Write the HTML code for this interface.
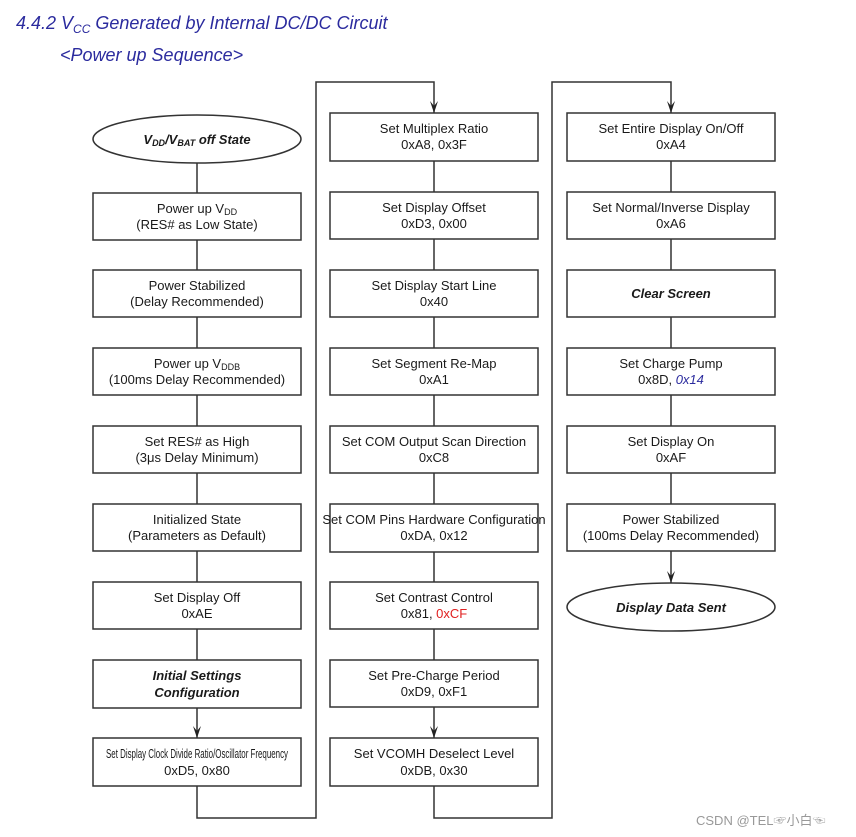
<!DOCTYPE html>
<html><head><meta charset="utf-8"><style>
html,body{margin:0;padding:0;background:#fff;}
svg{display:block;}
text{font-family:"Liberation Sans",sans-serif;font-size:13px;fill:#1a1a1a;}
.b{font-weight:bold;font-style:italic;}
.t{fill:#2b2b9e;font-style:italic;font-size:18px;}
</style></head><body>
<svg width="856" height="837" viewBox="0 0 856 837" xmlns="http://www.w3.org/2000/svg">
<defs><marker id="a" markerWidth="8" markerHeight="10" refX="4" refY="10" orient="auto" markerUnits="userSpaceOnUse"><path d="M0,0 L4,10 L8,0 L4,4 Z" fill="#222" transform="rotate(-90 4 5)"/></marker>
<marker id="ar" viewBox="0 0 8 12" markerWidth="8" markerHeight="12" refX="4" refY="12" orient="0" markerUnits="userSpaceOnUse"><path d="M0,0 L4,12 L8,0 L4,5 Z" fill="#222"/></marker></defs>
<text x="16" y="29" class="t">4.4.2 V<tspan font-size="12" dy="4">CC</tspan><tspan dy="-4"> Generated by Internal DC/DC Circuit</tspan></text>
<text x="60" y="61" class="t">&lt;Power up Sequence&gt;</text>
<g stroke="#333" stroke-width="1.5" fill="none">
<!-- col1 -->
<ellipse cx="197" cy="139" rx="104" ry="24" fill="#fff"/>
<rect x="93" y="193" width="208" height="47"/>
<rect x="93" y="270" width="208" height="47"/>
<rect x="93" y="348" width="208" height="47"/>
<rect x="93" y="426" width="208" height="47"/>
<rect x="93" y="504" width="208" height="47"/>
<rect x="93" y="582" width="208" height="47"/>
<rect x="93" y="660" width="208" height="48"/>
<rect x="93" y="738" width="208" height="48"/>
<!-- col2 -->
<rect x="330" y="113" width="208" height="48"/>
<rect x="330" y="192" width="208" height="47"/>
<rect x="330" y="270" width="208" height="47"/>
<rect x="330" y="348" width="208" height="47"/>
<rect x="330" y="426" width="208" height="47"/>
<rect x="330" y="504" width="208" height="48"/>
<rect x="330" y="582" width="208" height="47"/>
<rect x="330" y="660" width="208" height="47"/>
<rect x="330" y="738" width="208" height="48"/>
<!-- col3 -->
<rect x="567" y="113" width="208" height="48"/>
<rect x="567" y="192" width="208" height="47"/>
<rect x="567" y="270" width="208" height="47"/>
<rect x="567" y="348" width="208" height="47"/>
<rect x="567" y="426" width="208" height="47"/>
<rect x="567" y="504" width="208" height="47"/>
<ellipse cx="671" cy="607" rx="104" ry="24"/>
<!-- connectors -->
<path d="M197,163V193M197,240V270M197,317V348M197,395V426M197,473V504M197,551V582M197,629V660M197,708V738" marker-end="url(#ar)"/>
<path d="M434,161V192M434,239V270M434,317V348M434,395V426M434,473V504M434,552V582M434,629V660M434,707V738" marker-end="url(#ar)"/>
<path d="M671,161V192M671,239V270M671,317V348M671,395V426M671,473V504M671,551V583" marker-end="url(#ar)"/>
<path d="M197,786V818H316V82H434V113" marker-end="url(#ar)"/>
<path d="M434,786V818H552V82H671V113" marker-end="url(#ar)"/>
</g>
<g text-anchor="middle">
<text x="197" y="144" class="b">V<tspan font-size="9" dy="2">DD</tspan><tspan dy="-2">/V</tspan><tspan font-size="9" dy="2">BAT</tspan><tspan dy="-2"> off State</tspan></text>
<text x="197" y="213">Power up V<tspan font-size="9" dy="2">DD</tspan></text><text x="197" y="229">(RES# as Low State)</text>
<text x="197" y="290">Power Stabilized</text><text x="197" y="306">(Delay Recommended)</text>
<text x="197" y="368">Power up V<tspan font-size="9" dy="2">DDB</tspan></text><text x="197" y="384">(100ms Delay Recommended)</text>
<text x="197" y="446">Set RES# as High</text><text x="197" y="462">(3μs Delay Minimum)</text>
<text x="197" y="524">Initialized State</text><text x="197" y="540">(Parameters as Default)</text>
<text x="197" y="602">Set Display Off</text><text x="197" y="618">0xAE</text>
<text x="197" y="680" class="b">Initial Settings</text><text x="197" y="697" class="b">Configuration</text>
<text x="197" y="758" font-size="10" textLength="182" lengthAdjust="spacingAndGlyphs">Set Display Clock Divide Ratio/Oscillator Frequency</text><text x="197" y="775">0xD5, 0x80</text>

<text x="434" y="133">Set Multiplex Ratio</text><text x="434" y="149">0xA8, 0x3F</text>
<text x="434" y="212">Set Display Offset</text><text x="434" y="228">0xD3, 0x00</text>
<text x="434" y="290">Set Display Start Line</text><text x="434" y="306">0x40</text>
<text x="434" y="368">Set Segment Re-Map</text><text x="434" y="384">0xA1</text>
<text x="434" y="446">Set COM Output Scan Direction</text><text x="434" y="462">0xC8</text>
<text x="434" y="524" font-size="11.5">Set COM Pins Hardware Configuration</text><text x="434" y="540">0xDA, 0x12</text>
<text x="434" y="602">Set Contrast Control</text><text x="434" y="618">0x81, <tspan fill="#e02020">0xCF</tspan></text>
<text x="434" y="680">Set Pre-Charge Period</text><text x="434" y="696">0xD9, 0xF1</text>
<text x="434" y="758">Set VCOMH Deselect Level</text><text x="434" y="775">0xDB, 0x30</text>

<text x="671" y="133">Set Entire Display On/Off</text><text x="671" y="149">0xA4</text>
<text x="671" y="212">Set Normal/Inverse Display</text><text x="671" y="228">0xA6</text>
<text x="671" y="298" class="b">Clear Screen</text>
<text x="671" y="368">Set Charge Pump</text><text x="671" y="384">0x8D, <tspan fill="#2b2b9e" font-style="italic">0x14</tspan></text>
<text x="671" y="446">Set Display On</text><text x="671" y="462">0xAF</text>
<text x="671" y="524">Power Stabilized</text><text x="671" y="540">(100ms Delay Recommended)</text>
<text x="671" y="612" class="b">Display Data Sent</text>
</g>
<text x="696" y="825" font-size="13" fill="#999" style="fill:#999;font-family:'Liberation Sans','Noto Sans CJK SC',sans-serif">CSDN @TEL☞小白☜</text>
</svg>
</body></html>
